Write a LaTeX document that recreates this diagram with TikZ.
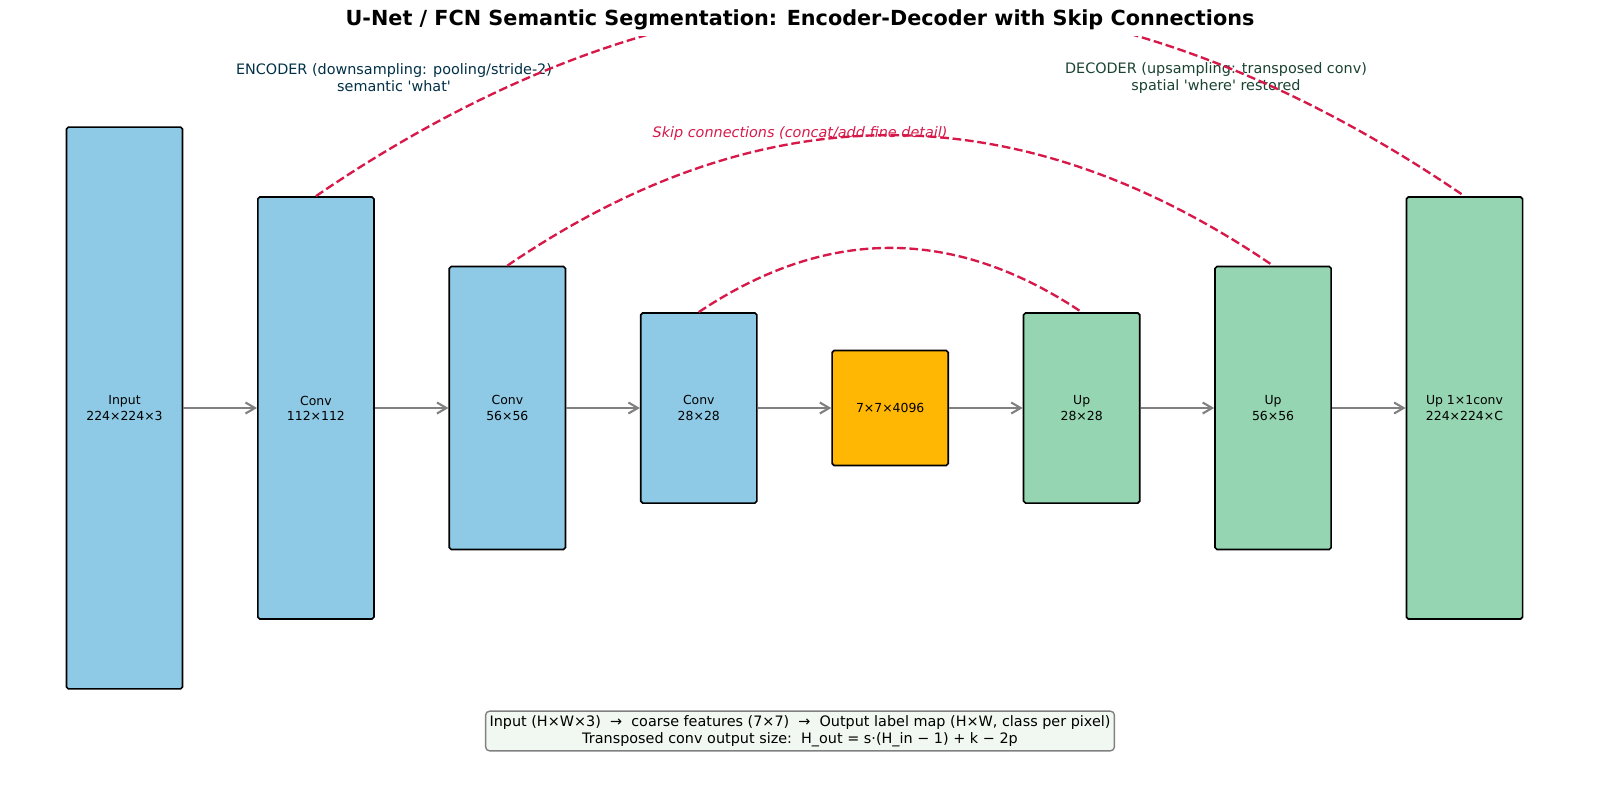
\documentclass[tikz,border=0pt]{standalone}
\usepackage{fontspec}
\setmainfont{DejaVu Sans}
\usetikzlibrary{positioning, arrows.meta}

\definecolor{encblue}{HTML}{8ECAE6}
\definecolor{decgreen}{HTML}{95D5B2}
\definecolor{coreorange}{HTML}{FFB703}
\definecolor{skipred}{HTML}{D7194A}
\definecolor{enctext}{HTML}{023047}
\definecolor{dectext}{HTML}{1B4332}
\definecolor{notefill}{HTML}{F1F8F1}

\begin{document}
\begin{tikzpicture}[x=0.254mm, y=-0.254mm,
    layer/.style={draw=black, line width=1.2pt, rounded corners=0.5mm, minimum width=29.5mm, inner sep=0pt, align=center, font=\fontsize{9}{11}\selectfont},
    enc/.style={layer, fill=encblue},
    dec/.style={layer, fill=decgreen},
    flow/.style={-{Straight Barb[length=2.4mm, width=2.8mm]}, draw=gray, line width=1.5pt},
    skip/.style={draw=skipred, line width=1.7pt, dash pattern=on 6.3pt off 2.7pt},
    side/.style={align=center, font=\fontsize{10.4}{12.4}\selectfont}]

    \useasboundingbox (0,0) rectangle (1600,793);

    % Title
    \node (title) at (800,20) {\fontsize{15}{18}\selectfont\bfseries U-Net / FCN Semantic Segmentation: Encoder-Decoder with Skip Connections};

    % Encoder / decoder notes
    \node (enctxt) [side, text=enctext] at (394,78) {ENCODER (downsampling: pooling/stride-2)\\semantic \textquotesingle what\textquotesingle};
    \node (dectxt) [side, text=dectext] at (1216,78) {DECODER (upsampling: transposed conv)\\spatial \textquotesingle where\textquotesingle\ restored};
    \node (skiptxt) [side, text=skipred, font=\fontsize{10.4}{12.4}\selectfont\itshape] at (800,134) {Skip connections (concat/add fine detail)};

    % Encoder path
    \node (input) [enc, minimum height=142.7mm] at (124.5,408) {Input\\224×224×3};
    \node (conv1) [enc, minimum height=107.2mm, right=18.7mm of input] {Conv\\112×112};
    \node (conv2) [enc, minimum height=71.9mm, right=18.7mm of conv1] {Conv\\56×56};
    \node (conv3) [enc, minimum height=48.3mm, right=18.7mm of conv2] {Conv\\28×28};

    % Bottleneck
    \node (core) [layer, fill=coreorange, minimum height=29.2mm, right=18.7mm of conv3] {7×7×4096};

    % Decoder path
    \node (up3) [dec, minimum height=48.3mm, right=18.7mm of core] {Up\\28×28};
    \node (up2) [dec, minimum height=71.9mm, right=18.7mm of up3] {Up\\56×56};
    \node (up1) [dec, minimum height=107.2mm, right=18.7mm of up2] {Up 1×1conv\\224×224×C};

    % Forward flow
    \draw[flow] (input) -- (conv1);
    \draw[flow] (conv1) -- (conv2);
    \draw[flow] (conv2) -- (conv3);
    \draw[flow] (conv3) -- (core);
    \draw[flow] (core) -- (up3);
    \draw[flow] (up3) -- (up2);
    \draw[flow] (up2) -- (up1);

    % Skip connections
    \begin{scope}
        \clip (0,36) rectangle (1600,793);
        \draw[skip] (conv3.north) .. controls +(128,-85.6) and +(-128,-85.6) .. (up3.north);
        \draw[skip] (conv2.north) .. controls +(255,-174) and +(-255,-174) .. (up2.north);
        \draw[skip] (conv1.north) .. controls +(383,-262) and +(-383,-262) .. (up1.north);
    \end{scope}

    % Summary box
    \node (summary) [draw=gray, line width=1pt, fill=notefill, rounded corners=1mm, inner sep=1mm, align=center, font=\fontsize{10.4}{12.6}\selectfont] at (800,731) {Input (H×W×3)\ \ →\ \ coarse features (7×7)\ \ →\ \ Output label map (H×W, class per pixel)\\Transposed conv output size:\ \ H\_out = s·(H\_in − 1) + k − 2p};
\end{tikzpicture}
\end{document}
